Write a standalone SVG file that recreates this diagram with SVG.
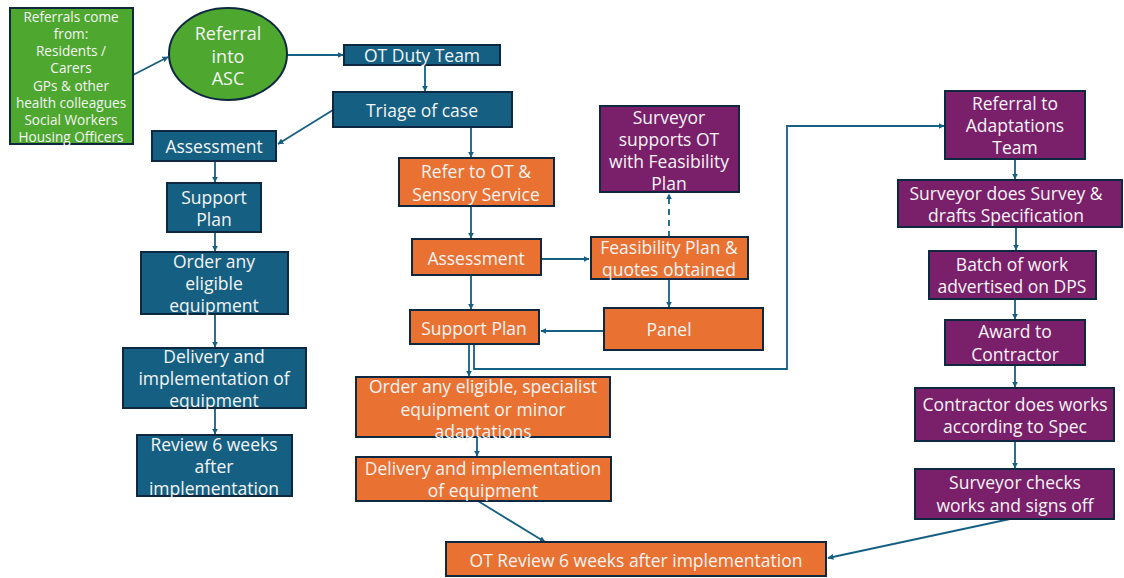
<svg xmlns="http://www.w3.org/2000/svg" width="1124" height="578" viewBox="0 0 1124 578">
<style>
.box{stroke:#0e2841;stroke-width:2}
.b{fill:#156082}.o{fill:#e97132}.p{fill:#7a1f6a}.g{fill:#4ea72e}
text{font-family:"Open Sans","Liberation Sans",sans-serif;font-size:17.5px;fill:#f4f4f4;text-anchor:middle;dominant-baseline:central}
.sm{font-size:13.6px}
.lg{font-size:18px}
.c{fill:none;stroke:#156082;stroke-width:1.8}
.d{stroke-dasharray:6 5}
</style>
<defs>
<marker id="ah" viewBox="0 0 10 10" refX="9" refY="5" markerWidth="6" markerHeight="6" orient="auto" markerUnits="userSpaceOnUse">
<path d="M0,0 L10,5 L0,10 z" fill="#156082"/>
</marker>
</defs>
<rect width="1124" height="578" fill="#ffffff"/>
<g id="connectors">
<path class="c" d="M133,75 L168,57" marker-end="url(#ah)"/>
<path class="c" d="M287,55 L343,55" marker-end="url(#ah)"/>
<path class="c" d="M425,65 L425,91" marker-end="url(#ah)"/>
<path class="c" d="M333,110 L278,144" marker-end="url(#ah)"/>
<path class="c" d="M471,127 L471,157" marker-end="url(#ah)"/>
<path class="c" d="M215,161 L215,182" marker-end="url(#ah)"/>
<path class="c" d="M215,232 L215,251" marker-end="url(#ah)"/>
<path class="c" d="M215,314 L215,347" marker-end="url(#ah)"/>
<path class="c" d="M215,408 L215,434" marker-end="url(#ah)"/>
<path class="c" d="M471,206 L471,238" marker-end="url(#ah)"/>
<path class="c" d="M541,259 L589,259" marker-end="url(#ah)"/>
<path class="c d" d="M669,237 L669,194" marker-end="url(#ah)"/>
<path class="c" d="M669,279 L669,307" marker-end="url(#ah)"/>
<path class="c" d="M604,331 L541,331" marker-end="url(#ah)"/>
<path class="c" d="M471,275 L471,309" marker-end="url(#ah)"/>
<path class="c" d="M469,344 L469,376" marker-end="url(#ah)"/>
<path class="c" d="M474,344 L474,369 L787,369 L787,126 L944,126" marker-end="url(#ah)"/>
<path class="c" d="M477,423 L477,456" marker-end="url(#ah)"/>
<path class="c" d="M478,501 L545,542" marker-end="url(#ah)"/>
<path class="c" d="M1010,519 L828,558" marker-end="url(#ah)"/>
<path class="c" d="M1015,159 L1015,179" marker-end="url(#ah)"/>
<path class="c" d="M1016,227 L1016,250" marker-end="url(#ah)"/>
<path class="c" d="M1015,299 L1015,319" marker-end="url(#ah)"/>
<path class="c" d="M1015,365 L1015,387" marker-end="url(#ah)"/>
<path class="c" d="M1015,441 L1015,468" marker-end="url(#ah)"/>
</g>
<g id="referrals-from">
<rect class="box g" x="10" y="8" width="123" height="136"/>
<text class="sm" x="71" y="16">Referrals come</text>
<text class="sm" x="71" y="33">from:</text>
<text class="sm" x="71" y="50">Residents /</text>
<text class="sm" x="71" y="67">Carers</text>
<text class="sm" x="71" y="85">GPs &amp; other</text>
<text class="sm" x="71" y="102">health colleagues</text>
<text class="sm" x="71" y="119">Social Workers</text>
<text class="sm" x="71" y="136">Housing Officers</text>
</g>
<g id="referral-asc">
<ellipse class="box g" cx="228" cy="54" rx="59" ry="46"/>
<text class="lg" x="228" y="33">Referral</text>
<text class="lg" x="228" y="56">into</text>
<text class="lg" x="228" y="78">ASC</text>
</g>
<g id="ot-duty">
<rect class="box b" x="344" y="45" width="156" height="20"/>
<text x="422" y="55">OT Duty Team</text>
</g>
<g id="triage">
<rect class="box b" x="333" y="92" width="179" height="35"/>
<text x="422" y="110">Triage of case</text>
</g>
<g id="assessment-l">
<rect class="box b" x="152" y="131" width="124" height="30"/>
<text x="214" y="146">Assessment</text>
</g>
<g id="support-l">
<rect class="box b" x="167" y="183" width="94" height="49"/>
<text x="214" y="197">Support</text>
<text x="214" y="219">Plan</text>
</g>
<g id="order-l">
<rect class="box b" x="141" y="252" width="147" height="62"/>
<text x="214" y="261">Order any</text>
<text x="214" y="283">eligible</text>
<text x="214" y="305">equipment</text>
</g>
<g id="delivery-l">
<rect class="box b" x="123" y="348" width="183" height="60"/>
<text x="214" y="356">Delivery and</text>
<text x="214" y="378">implementation of</text>
<text x="214" y="400">equipment</text>
</g>
<g id="review-l">
<rect class="box b" x="137" y="435" width="155" height="61"/>
<text x="214" y="444">Review 6 weeks</text>
<text x="214" y="466">after</text>
<text x="214" y="488">implementation</text>
</g>
<g id="refer-ot">
<rect class="box o" x="399" y="158" width="155" height="48"/>
<text x="476" y="171">Refer to OT &amp;</text>
<text x="476" y="194">Sensory Service</text>
</g>
<g id="assessment-m">
<rect class="box o" x="412" y="239" width="129" height="36"/>
<text x="476" y="258">Assessment</text>
</g>
<g id="support-m">
<rect class="box o" x="410" y="310" width="129" height="34"/>
<text x="474" y="328">Support Plan</text>
</g>
<g id="feasibility">
<rect class="box o" x="591" y="237" width="157" height="42"/>
<text x="669" y="247">Feasibility Plan &amp;</text>
<text x="669" y="269">quotes obtained</text>
</g>
<g id="surveyor-supports">
<rect class="box p" x="600" y="106" width="139" height="86"/>
<text x="669" y="117">Surveyor</text>
<text x="669" y="139">supports OT</text>
<text x="669" y="161">with Feasibility</text>
<text x="669" y="183">Plan</text>
</g>
<g id="panel">
<rect class="box o" x="604" y="308" width="159" height="42"/>
<text x="669" y="329">Panel</text>
</g>
<g id="order-m">
<rect class="box o" x="356" y="377" width="254" height="60"/>
<text x="483" y="386">Order any eligible, specialist</text>
<text x="483" y="409">equipment or minor</text>
<text x="483" y="431">adaptations</text>
</g>
<g id="delivery-m">
<rect class="box o" x="356" y="457" width="255" height="44"/>
<text x="483" y="468">Delivery and implementation</text>
<text x="483" y="490">of equipment</text>
</g>
<g id="ot-review">
<rect class="box o" x="446" y="542" width="380" height="34"/>
<text x="636" y="560">OT Review 6 weeks after implementation</text>
</g>
<g id="referral-adapt">
<rect class="box p" x="945" y="91" width="140" height="68"/>
<text x="1015" y="103">Referral to</text>
<text x="1015" y="125">Adaptations</text>
<text x="1015" y="147">Team</text>
</g>
<g id="surveyor-survey">
<rect class="box p" x="898" y="180" width="224" height="47"/>
<text x="1006" y="193">Surveyor does Survey &amp;</text>
<text x="1006" y="215">drafts Specification</text>
</g>
<g id="batch">
<rect class="box p" x="929" y="251" width="167" height="48"/>
<text x="1012" y="264">Batch of work</text>
<text x="1012" y="286">advertised on DPS</text>
</g>
<g id="award">
<rect class="box p" x="945" y="320" width="140" height="45"/>
<text x="1015" y="331">Award to</text>
<text x="1015" y="354">Contractor</text>
</g>
<g id="contractor-works">
<rect class="box p" x="915" y="388" width="199" height="53"/>
<text x="1015" y="404">Contractor does works</text>
<text x="1015" y="426">according to Spec</text>
</g>
<g id="surveyor-checks">
<rect class="box p" x="915" y="469" width="199" height="50"/>
<text x="1015" y="482">Surveyor checks</text>
<text x="1015" y="505">works and signs off</text>
</g>
</svg>
